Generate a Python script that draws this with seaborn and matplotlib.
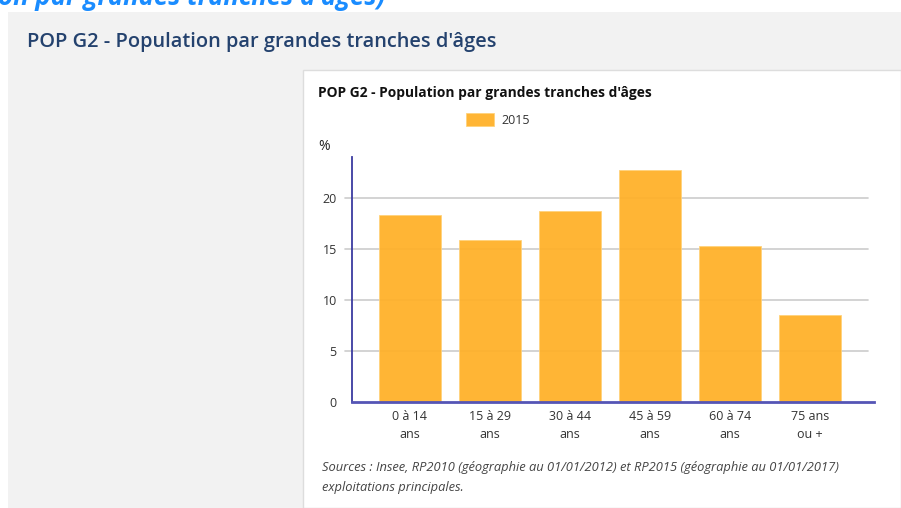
import matplotlib
matplotlib.use('Agg')
import matplotlib.pyplot as plt
import seaborn as sns
import pandas as pd
from matplotlib.patches import Rectangle

# données
tranches = ['0 à 14\nans', '15 à 29\nans', '30 à 44\nans', '45 à 59\nans', '60 à 74\nans', '75 ans\nou +']
valeurs_2015 = [18.3, 15.9, 18.7, 22.7, 15.3, 8.5]
yticks = [0, 5, 10, 15, 20]

df = pd.DataFrame({'tranche': tranches, 'pct': valeurs_2015})

sns.set_theme(style='white')
plt.rcParams['font.family'] = ['Open Sans', 'DejaVu Sans']

W, H = 901, 508
fig = plt.figure(figsize=(W / 100, H / 100), dpi=100)
fig.patch.set_facecolor('white')

def fx(x):
    return x / W

def fy(y):
    return 1 - y / H

# fond de page
fig.patches.append(Rectangle((fx(8), 0), 1 - fx(8), fy(12), transform=fig.transFigure,
                             facecolor='#f2f2f2', edgecolor='none', zorder=-3))
fig.patches.append(Rectangle((fx(303), 0), 1 - fx(303), fy(70), transform=fig.transFigure,
                             facecolor='white', edgecolor='#dddddd', linewidth=1, zorder=-2))

fig.text(fx(-2), fy(5), "on par grandes tranches d'âges)", fontsize=18.5, fontweight='bold',
         fontstyle='italic', color='#1a8cff', va='baseline', ha='left')
fig.text(fx(27), fy(42), "POP G2 - Population par grandes tranches d'âges", fontsize=14.4,
         fontweight='semibold', color='#24426e', va='center', ha='left')

ax = fig.add_axes([fx(352), fy(402), fx(874) - fx(352), fy(157) - fy(402)])
ax.set_facecolor('none')

sns.barplot(data=df, x='tranche', y='pct', color='#ffb12a', width=0.77, saturation=1,
            alpha=0.95, edgecolor='#ffd27a', linewidth=0.6, label='2015', ax=ax, zorder=2)

ax.set_ylim(0, 24)
ax.set_xlim(-0.725, 5.8)
ax.set_yticks(yticks)
ax.set_xlabel('')
ax.set_ylabel('')

for t in yticks[1:]:
    ax.plot([-0.725 - 0.09, 5.72], [t, t], color='#cccccc', linewidth=1.2, zorder=1, clip_on=False)

for s in ['top', 'right']:
    ax.spines[s].set_visible(False)
ax.spines['left'].set_color('#3b3ba0')
ax.spines['left'].set_linewidth(1.3)
ax.spines['bottom'].set_color('#5555b5')
ax.spines['bottom'].set_linewidth(2)
ax.spines['bottom'].set_zorder(3)

ax.tick_params(axis='y', length=7, width=1, color='#cccccc', labelsize=9, labelcolor='#333333', pad=4)
ax.tick_params(axis='x', length=0, labelsize=9, labelcolor='#333333', pad=6)
for lab in ax.get_xticklabels():
    lab.set_linespacing(1.45)

fig.text(fx(318), fy(93), "POP G2 - Population par grandes tranches d'âges", fontsize=9.9,
         fontweight='bold', color='#111111', va='center', ha='left')
fig.text(fx(318), fy(147), '%', fontsize=10, color='#222222', va='center', ha='left')

ax.legend(loc='center', bbox_to_anchor=(fx(498), fy(120)), bbox_transform=fig.transFigure,
          frameon=False, fontsize=9, handlelength=2.2, handleheight=1.15, handletextpad=0.6,
          labelcolor='#333333')

fig.text(fx(322), fy(468), "Sources : Insee, RP2010 (géographie au 01/01/2012) et RP2015 (géographie au 01/01/2017)",
         fontsize=9.3, fontstyle='italic', color='#444444', va='center', ha='left')
fig.text(fx(322), fy(487), "exploitations principales.", fontsize=9.3, fontstyle='italic',
         color='#444444', va='center', ha='left')

fig.savefig('out.png', dpi=100)
